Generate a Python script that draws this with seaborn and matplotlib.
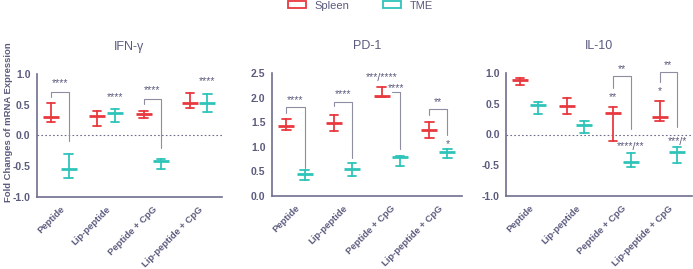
import numpy as np
import pandas as pd
import matplotlib
matplotlib.use("Agg")
import matplotlib.pyplot as plt
import seaborn as sns
from matplotlib.patches import Patch

sns.set_theme(style="white")
plt.rcParams['font.family'] = ['Liberation Sans', 'DejaVu Sans']

groups = ["Peptide", "Lip-peptide", "Peptide + CpG", "Lip-peptide + CpG"]
tissues = ["Spleen", "TME"]

ifn_spleen_mean = [0.30, 0.32, 0.35, 0.53]
ifn_spleen_lo = [0.22, 0.16, 0.29, 0.44]
ifn_spleen_hi = [0.53, 0.40, 0.40, 0.69]
ifn_tme_mean = [-0.55, 0.37, -0.41, 0.53]
ifn_tme_lo = [-0.70, 0.22, -0.55, 0.38]
ifn_tme_hi = [-0.30, 0.43, -0.38, 0.68]

pd1_spleen_mean = [1.42, 1.49, 2.04, 1.35]
pd1_spleen_lo = [1.35, 1.33, 2.01, 1.17]
pd1_spleen_hi = [1.57, 1.64, 2.21, 1.50]
pd1_tme_mean = [0.45, 0.55, 0.79, 0.89]
pd1_tme_lo = [0.32, 0.41, 0.61, 0.77]
pd1_tme_hi = [0.52, 0.68, 0.81, 0.95]

il10_spleen_mean = [0.89, 0.47, 0.35, 0.29]
il10_spleen_lo = [0.80, 0.34, -0.10, 0.22]
il10_spleen_hi = [0.92, 0.59, 0.45, 0.54]
il10_tme_mean = [0.48, 0.15, -0.45, -0.28]
il10_tme_lo = [0.33, 0.02, -0.53, -0.47]
il10_tme_hi = [0.52, 0.22, -0.30, -0.21]

# brackets: (group, y_top, y_left_end, y_right_end, label, label_y, left_shift)
ifn_brackets = [(0, 0.70, 0.63, -0.09, "****", 0.86, 0.0),
                (2, 0.59, 0.51, -0.21, "****", 0.74, 0.0)]
pd1_brackets = [(0, 1.81, 1.68, 0.58, "****", 1.95, 0.0),
                (1, 1.91, 1.82, 0.77, "****", 2.07, 0.0),
                (2, 2.11, 2.11, 0.95, "****", 2.20, 0.22),
                (3, 1.77, 1.64, 1.24, "**", 1.91, 0.0)]
il10_brackets = [(2, 0.95, 0.76, 0.09, "**", 1.06, 0.0),
                 (3, 1.02, 0.85, 0.12, "**", 1.12, 0.0)]
# single labels: (group, tissue index, label, y)
ifn_labels = [(1, 1, "****", 0.62), (3, 1, "****", 0.88)]
pd1_labels = [(2, 0, "***/****", 2.40), (3, 1, "*", 1.06)]
il10_labels = [(2, 0, "**", 0.61), (2, 1, "****/**", -0.21), (3, 0, "*", 0.71), (3, 1, "***/*", -0.12)]

red = "#e8393f"
teal = "#2fc4b9"
txt = "#5b5b7e"
axc = "#6e6e8e"
brc = "#8e8ea2"
DODGE = 0.38


def make_df(sm, sl, sh, tm, tl, th):
    rows = []
    for t, (m, l, h) in zip(tissues, [(sm, sl, sh), (tm, tl, th)]):
        for g, mm, ll, hh in zip(groups, m, l, h):
            for v in (ll, mm, hh):
                rows.append((g, t, v))
    return pd.DataFrame(rows, columns=["group", "tissue", "value"])


panels = [
    ("IFN-γ", make_df(ifn_spleen_mean, ifn_spleen_lo, ifn_spleen_hi, ifn_tme_mean, ifn_tme_lo, ifn_tme_hi),
     (-1.0, 1.0), [-1.0, -0.5, 0.0, 0.5, 1.0], True, ifn_brackets, ifn_labels),
    ("PD-1", make_df(pd1_spleen_mean, pd1_spleen_lo, pd1_spleen_hi, pd1_tme_mean, pd1_tme_lo, pd1_tme_hi),
     (0.0, 2.5), [0.0, 0.5, 1.0, 1.5, 2.0, 2.5], False, pd1_brackets, pd1_labels),
    ("IL-10", make_df(il10_spleen_mean, il10_spleen_lo, il10_spleen_hi, il10_tme_mean, il10_tme_lo, il10_tme_hi),
     (-1.0, 1.0), [-1.0, -0.5, 0.0, 0.5, 1.0], True, il10_brackets, il10_labels),
]

fig = plt.figure(figsize=(6.93, 2.69), dpi=100)
rects = [(0.053, 0.268, 0.267, 0.457), (0.392, 0.271, 0.275, 0.458), (0.730, 0.271, 0.268, 0.458)]

for (title, df, ylim, yticks, zero, brackets, labels), r in zip(panels, rects):
    ax = fig.add_axes(r)
    sns.pointplot(data=df, x="group", y="value", hue="tissue", order=groups, hue_order=tissues,
                  estimator=np.median, errorbar=lambda v: (v.min(), v.max()),
                  dodge=DODGE, markers="_", linestyles="none", capsize=0.18,
                  palette=[red, teal], err_kws={"linewidth": 1.3},
                  markersize=11, markeredgewidth=2.0, legend=False, ax=ax)
    ax.set_xlim(-0.5, 3.5)
    ax.set_ylim(*ylim)
    ax.set_yticks(yticks)
    ax.set_yticklabels([f"{v:.1f}" for v in yticks])
    if zero:
        ax.axhline(0, color=axc, lw=0.8, ls=(0, (1.5, 2)), zorder=0)
    for s in ["top", "right"]:
        ax.spines[s].set_visible(False)
    for s in ["left", "bottom"]:
        ax.spines[s].set_color(axc)
        ax.spines[s].set_linewidth(1.2)
    ax.tick_params(axis="both", colors=axc, length=3, width=1.0, labelcolor=txt, pad=1.5)
    ax.tick_params(axis="y", labelsize=7.5)
    ax.tick_params(axis="x", labelsize=6.8, pad=2.5)
    ax.set_xticks(range(len(groups)))
    ax.set_xticklabels(groups, rotation=45, ha="right", rotation_mode="anchor", fontweight="bold")
    for lab in ax.get_yticklabels():
        lab.set_fontweight("bold")
    ax.set_xlabel("")
    ax.set_ylabel("")
    ax.set_title(title, color=txt, fontsize=9, pad=17)
    half = DODGE / 2
    for g, yt, yl, yr, lab, ly, ls in brackets:
        xl = g - half + ls
        xr = g + half
        ax.plot([xl, xl, xr, xr], [yl, yt, yt, yr], color=brc, lw=0.8, clip_on=False)
        ax.text((xl + xr) / 2, ly, lab, ha="center", va="center", fontsize=7.5, color=txt, clip_on=False)
    for g, ti, lab, ly in labels:
        x = g + (-half if ti == 0 else half)
        ax.text(x, ly, lab, ha="center", va="center", fontsize=7.5, color=txt, clip_on=False)

fig.text(0.012, 0.545, "Fold Changes of mRNA Expression", rotation=90, ha="center", va="center",
         color=txt, fontsize=6.8, fontweight="bold")

handles = [Patch(facecolor="none", edgecolor=red, linewidth=1.3, label="Spleen"),
           Patch(facecolor="none", edgecolor=teal, linewidth=1.3, label="TME")]
leg = fig.legend(handles=handles, loc="upper center", bbox_to_anchor=(0.52, 1.035), ncol=2, frameon=False,
                 fontsize=8, columnspacing=3.0, handlelength=1.6, handleheight=0.6, handletextpad=0.8)
for t in leg.get_texts():
    t.set_color(txt)

fig.savefig("out.png", dpi=100)
